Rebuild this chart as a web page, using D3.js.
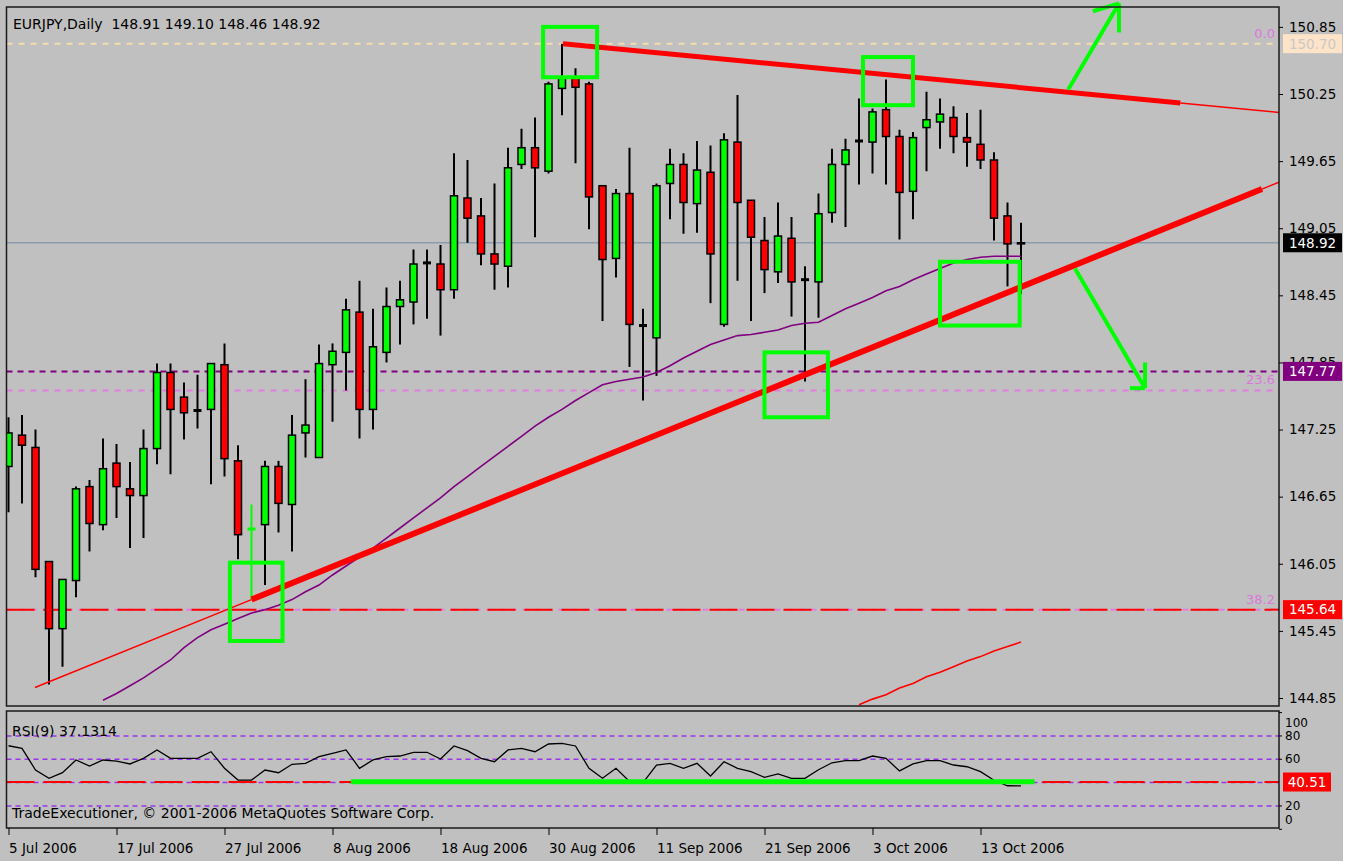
<!DOCTYPE html>
<html>
<head>
<meta charset="utf-8">
<script src="https://cdn.jsdelivr.net/npm/d3@7"></script>
<style>
  body { margin: 0; background: #fff; }
  svg text { font-family: "DejaVu Sans", sans-serif; }
</style>
</head>
<body>
<div id="viz"></div>
<script>
// EURJPY daily bars, 5 Jul 2006 (index 0) .. 18 Oct 2006 (index 75)
const opens = [146.92,147.20,147.09,146.07,145.47,145.90,146.74,146.40,146.95,146.72,
  146.66,147.08,147.76,147.54,147.42,147.43,147.83,146.97,146.36,146.40,
  146.92,146.58,147.22,147.00,147.83,147.94,148.30,147.43,147.94,148.35,
  148.39,148.74,148.73,148.50,149.32,149.16,148.82,148.71,149.62,149.77,
  149.56,150.30,150.39,150.34,149.43,148.78,149.36,148.18,148.07,149.45,
  149.62,149.27,149.55,148.19,149.82,149.30,148.94,148.66,148.96,148.59,
  148.57,149.19,149.62,149.83,149.82,150.11,149.87,149.38,149.95,150.00,
  150.04,149.86,149.80,149.66,149.16,148.91];
const highs = [147.36,147.38,147.25,146.07,145.91,146.74,146.80,147.17,147.12,146.96,
  147.25,147.84,147.84,147.67,147.74,147.84,148.02,147.11,146.58,146.97,
  146.97,147.38,147.70,148.01,148.02,148.42,148.58,148.33,148.52,148.58,
  148.86,148.86,148.90,149.72,149.66,149.32,149.45,149.77,149.94,150.04,
  150.36,150.70,150.48,150.36,149.43,149.40,149.77,148.33,149.45,149.76,
  149.72,149.83,149.79,149.90,150.24,149.30,149.15,149.28,149.15,148.71,
  149.36,149.76,149.85,150.21,150.12,150.38,149.93,149.91,150.27,150.21,
  150.14,150.08,150.11,149.73,149.28,149.10];
const lows = [146.51,146.59,145.93,144.97,145.13,145.75,146.16,146.35,146.46,146.19,
  146.28,146.94,146.85,147.16,147.26,146.76,146.83,146.09,145.73,145.86,
  146.33,146.16,147.00,147.00,147.32,147.60,147.17,147.25,147.85,148.01,
  148.19,148.24,148.09,148.42,148.92,148.72,148.50,148.52,149.58,148.97,
  149.54,150.06,149.63,149.04,148.22,148.61,147.81,147.51,147.73,149.13,
  149.00,149.01,148.38,148.17,148.58,148.22,148.47,148.56,148.26,147.68,
  148.25,149.10,149.06,149.44,149.54,149.44,148.95,149.13,149.56,149.76,
  149.72,149.60,149.58,148.94,148.53,148.46];
const closes = [147.22,147.11,146.00,145.47,145.91,146.72,146.41,146.90,146.74,146.66,
  147.08,147.76,147.43,147.40,147.42,147.84,146.99,146.31,146.36,146.92,
  146.59,147.20,147.29,147.84,147.95,148.32,147.43,147.99,148.35,148.41,
  148.73,148.74,148.50,149.34,149.14,148.82,148.73,149.59,149.77,149.59,
  150.34,150.39,150.31,149.33,148.77,149.36,148.19,148.18,149.43,149.62,
  149.28,149.57,148.82,149.84,149.28,148.97,148.68,148.98,148.57,148.59,
  149.18,149.62,149.75,149.83,150.09,149.87,149.37,149.86,150.02,150.07,
  149.87,149.82,149.66,149.14,148.91,148.92];

// RSI(9), one value per bar
const rsiValues = [71.6,69.4,50.8,43.7,48.5,59.4,54.2,59.4,58.5,56.0,
  60.8,68.0,60.8,60.8,60.8,66.5,52.3,42.2,42.2,50.8,
  48.5,55.7,56.5,62.2,65.1,68.0,52.3,59.4,62.2,62.8,
  66.0,66.0,60.2,71.4,67.4,60.8,57.9,68.0,69.4,66.5,
  73.1,73.7,71.4,52.3,43.7,52.3,41.0,40.0,55.1,56.5,
  52.3,56.5,45.7,57.9,52.3,49.4,44.5,47.4,43.7,43.7,
  51.0,57.0,58.8,58.8,62.8,60.8,50.0,56.0,58.8,58.8,
  55.1,53.6,49.4,42.0,37.3,37.1314];

// purple moving average, starting at bar 7
const maStart = 7;
const maValues = [144.83,144.89,144.96,145.03,145.11,145.19,145.30,145.39,145.46,145.51,
  145.56,145.61,145.64,145.68,145.73,145.80,145.86,145.95,146.03,146.11,
  146.19,146.28,146.37,146.46,146.55,146.64,146.74,146.83,146.92,147.01,
  147.10,147.19,147.28,147.36,147.43,147.51,147.58,147.65,147.68,147.70,
  147.72,147.76,147.82,147.89,147.95,148.01,148.05,148.09,148.10,148.12,
  148.14,148.18,148.20,148.21,148.27,148.33,148.38,148.43,148.49,148.53,
  148.59,148.64,148.69,148.74,148.77,148.79,148.80,148.80,148.80];

// red slow moving average, starting at bar 63
const slowStart = 63;
const slowValues = [144.79,144.84,144.88,144.94,144.98,145.04,145.08,145.13,145.18,145.22,145.27,145.31,145.35];

const dateTicks = [0, 8, 16, 24, 32, 40, 48, 56, 64, 72];
const dateLabels = ['5 Jul 2006', '17 Jul 2006', '27 Jul 2006', '8 Aug 2006', '18 Aug 2006',
  '30 Aug 2006', '11 Sep 2006', '21 Sep 2006', '3 Oct 2006', '13 Oct 2006'];
const priceTicks = [150.85, 150.25, 149.65, 149.05, 148.45, 147.85, 147.25, 146.65, 146.05, 145.45, 144.85];
const rsiTicks = [100, 80, 60, 20, 0];
const rsiLevels = [80, 60, 40, 20];

// fibonacci levels and horizontal lines
const fibNames = ['0.0', '23.6', '38.2'];
const fibPrices = [150.70, 147.60, 145.64];
const purpleLevel = 147.77;
const redLevel = 145.64;
const rsiRedLevel = 40.51;

// drawn objects: trendlines (bar index, price)
const resistBars = [41.07, 86.8];
const resistPrices = [150.70, 150.17];
const supportBars = [18, 92.85];
const supportPrices = [145.73, 149.40];
const supportFrom = 1.96;
const rsiTrendBars = [25.37, 76.0];
const rsiTrendValue = 40.8;
const markedBar = 18;

// green rectangles [bar0, bar1], [price0, price1]
const boxBars = [[39.6, 43.6], [63.3, 67.0], [56.0, 60.7], [69.0, 74.9], [16.4, 20.3]];
const boxPrices = [[150.85, 150.40], [150.58, 150.15], [147.94, 147.36], [148.75, 148.18], [146.06, 145.36]];

// green arrows: tail, tip, head ends
const arrowTails = [[78.5, 150.29], [79.0, 148.69]];
const arrowTips = [[82.26, 151.06], [84.19, 147.62]];
const arrowHeadA = [[80.33, 150.99], [83.07, 147.62]];
const arrowHeadB = [[82.26, 150.80], [84.19, 147.85]];

const W = 1352, H = 861;
const plot = {left: 6.5, right: 1279, top: 7, bottom: 706};
const rsiBox = {top: 711, bottom: 828};

const n = opens.length;
const bars = d3.range(n).map(i => ({i, o: opens[i], h: highs[i], l: lows[i], c: closes[i]}));
const last = bars[n - 1];

const x = d3.scaleLinear().domain([0, 75]).range([8.5, 1021]);
const y = d3.scaleLinear().domain([144.85, 150.25]).range([698, 94]);
const yr = d3.scaleLinear().domain([0, 100]).range([829.3, 712.6]);
const rightBar = x.invert(plot.right);

const svg = d3.select('#viz').append('svg').attr('width', W).attr('height', H);
svg.append('rect').attr('width', 1343).attr('height', H).attr('fill', '#c0c0c0');

const defs = svg.append('defs');
defs.append('clipPath').attr('id', 'clipMain').append('rect')
  .attr('x', plot.left).attr('y', plot.top)
  .attr('width', plot.right - plot.left).attr('height', plot.bottom - plot.top);
defs.append('clipPath').attr('id', 'clipRsi').append('rect')
  .attr('x', plot.left).attr('y', rsiBox.top)
  .attr('width', plot.right - plot.left).attr('height', rsiBox.bottom - rsiBox.top);

const main = svg.append('g').attr('clip-path', 'url(#clipMain)');

function hline(g, v, scale, color, dash, width) {
  g.append('line')
    .attr('x1', plot.left).attr('x2', plot.right)
    .attr('y1', scale(v)).attr('y2', scale(v))
    .attr('stroke', color).attr('stroke-width', width)
    .attr('stroke-dasharray', dash);
}

// horizontal levels
hline(main, fibPrices[0], y, '#f5dcb0', '6,6', 2);
hline(main, fibPrices[1], y, '#e07ee0', '6,6', 2);
hline(main, fibPrices[2], y, '#e07ee0', '6,6', 2);
hline(main, purpleLevel, y, '#800080', '6,5', 2);
hline(main, redLevel, y, '#ff0000', '28,9', 2);
hline(main, last.c, y, '#8c9cae', null, 1.5);

// candles
const cg = main.append('g').selectAll('g').data(bars).join('g');
cg.append('line')
  .attr('x1', d => x(d.i)).attr('x2', d => x(d.i))
  .attr('y1', d => y(d.h)).attr('y2', d => y(d.l))
  .attr('stroke', d => d.i === markedBar ? '#00ff00' : '#000').attr('stroke-width', 2);
cg.filter(d => Math.abs(d.o - d.c) >= 0.005).append('rect')
  .attr('x', d => x(d.i) - 3.5).attr('width', 7)
  .attr('y', d => y(Math.max(d.o, d.c)))
  .attr('height', d => Math.max(1, Math.abs(y(d.o) - y(d.c))))
  .attr('fill', d => d.c > d.o ? '#00ff00' : '#ff0000')
  .attr('stroke', '#000').attr('stroke-width', 1.5);
cg.filter(d => Math.abs(d.o - d.c) < 0.005).append('line')
  .attr('x1', d => x(d.i) - 4).attr('x2', d => x(d.i) + 4)
  .attr('y1', d => y(d.o)).attr('y2', d => y(d.o))
  .attr('stroke', d => d.i === markedBar ? '#00ff00' : '#000').attr('stroke-width', 3);

// moving averages
const ma = d3.line().x((d, i) => x(maStart + i)).y(d => y(d));
main.append('path').datum(maValues).attr('d', ma)
  .attr('fill', 'none').attr('stroke', '#800080').attr('stroke-width', 1.6);
const slow = d3.line().x((d, i) => x(slowStart + i)).y(d => y(d));
main.append('path').datum(slowValues).attr('d', slow)
  .attr('fill', 'none').attr('stroke', '#ff0000').attr('stroke-width', 1.6);

// trendlines
function along(bs, ps, b) {
  return ps[0] + (ps[1] - ps[0]) * (b - bs[0]) / (bs[1] - bs[0]);
}
function seg(b0, b1, bs, ps, width) {
  main.append('line')
    .attr('x1', x(b0)).attr('y1', y(along(bs, ps, b0)))
    .attr('x2', x(b1)).attr('y2', y(along(bs, ps, b1)))
    .attr('stroke', '#ff0000').attr('stroke-width', width);
}
seg(supportFrom, supportBars[0], supportBars, supportPrices, 1.5);
seg(supportBars[0], supportBars[1], supportBars, supportPrices, 6);
seg(supportBars[1], rightBar, supportBars, supportPrices, 1.5);
seg(resistBars[0], resistBars[1], resistBars, resistPrices, 5);
seg(resistBars[1], rightBar, resistBars, resistPrices, 1.5);

// green rectangles
svg.append('g').selectAll('rect').data(boxBars).join('rect')
  .attr('x', d => x(d[0])).attr('width', d => x(d[1]) - x(d[0]))
  .attr('y', (d, i) => y(boxPrices[i][0]))
  .attr('height', (d, i) => y(boxPrices[i][1]) - y(boxPrices[i][0]))
  .attr('fill', 'none').attr('stroke', '#00ff00').attr('stroke-width', 4);

// green arrows
const ag = svg.append('g').attr('stroke', '#00ff00').attr('stroke-width', 4).attr('fill', 'none');
arrowTips.forEach((tip, i) => {
  const pts = [[arrowTails[i], tip], [arrowHeadA[i], tip], [arrowHeadB[i], tip]];
  pts.forEach(p => {
    ag.append('line')
      .attr('x1', x(p[0][0])).attr('y1', y(p[0][1]))
      .attr('x2', x(p[1][0])).attr('y2', y(p[1][1]));
  });
});

// RSI panel
const rp = svg.append('g').attr('clip-path', 'url(#clipRsi)');
rsiLevels.forEach(v => hline(rp, v, yr, '#9933ee', '5,4', 1.5));
hline(rp, rsiRedLevel, yr, '#ff0000', '28,9', 2);
rp.append('path').datum(rsiValues)
  .attr('d', d3.line().x((d, i) => x(i)).y(d => yr(d)))
  .attr('fill', 'none').attr('stroke', '#000').attr('stroke-width', 1.3);
rp.append('line')
  .attr('x1', x(rsiTrendBars[0])).attr('x2', x(rsiTrendBars[1]))
  .attr('y1', yr(rsiTrendValue)).attr('y2', yr(rsiTrendValue))
  .attr('stroke', '#00ff00').attr('stroke-width', 5);

// frames
svg.append('rect').attr('x', plot.left).attr('y', plot.top)
  .attr('width', plot.right - plot.left).attr('height', plot.bottom - plot.top)
  .attr('fill', 'none').attr('stroke', '#1a1a1a').attr('stroke-width', 1.5);
svg.append('rect').attr('x', plot.left).attr('y', rsiBox.top)
  .attr('width', plot.right - plot.left).attr('height', rsiBox.bottom - rsiBox.top)
  .attr('fill', 'none').attr('stroke', '#1a1a1a').attr('stroke-width', 1.5);

// price axis
const pa = svg.append('g').attr('transform', `translate(${plot.right},0)`)
  .call(d3.axisRight(y).tickValues(priceTicks).tickSize(4).tickPadding(6).tickFormat(d3.format('.2f')));
pa.select('.domain').remove();
pa.selectAll('text').attr('font-size', '13.5px').attr('fill', '#000').attr('font-family', '"DejaVu Sans", sans-serif');
pa.selectAll('line').attr('stroke', '#000');

// RSI scale labels
const ra = svg.append('g');
rsiTicks.forEach(v => {
  const yy = Math.min(Math.max(yr(v), rsiBox.top + 12), rsiBox.bottom - 8);
  ra.append('line').attr('x1', plot.right).attr('x2', plot.right + 3)
    .attr('y1', yr(v)).attr('y2', yr(v)).attr('stroke', '#000');
  ra.append('text').attr('x', plot.right + 6).attr('y', yy).attr('dy', '0.35em')
    .attr('font-size', '12px').text(v);
});

// date axis
const da = svg.append('g').attr('transform', `translate(0,${rsiBox.bottom})`)
  .call(d3.axisBottom(x).tickValues(dateTicks).tickSize(7).tickPadding(8)
    .tickFormat(d => dateLabels[dateTicks.indexOf(d)]));
da.select('.domain').remove();
da.selectAll('text').attr('text-anchor', 'start').attr('font-size', '13.5px').attr('fill', '#000')
  .attr('font-family', '"DejaVu Sans", sans-serif');
da.selectAll('line').attr('stroke', '#000');

// price tag boxes on the right axis
function tag(yy, label, fill, color, w) {
  svg.append('rect').attr('x', plot.right + 4).attr('y', yy - 9.5)
    .attr('width', w).attr('height', 19).attr('fill', fill);
  svg.append('text').attr('x', plot.right + 4 + w / 2).attr('y', yy).attr('dy', '0.36em')
    .attr('text-anchor', 'middle').attr('font-size', '13.5px').attr('fill', color).text(label);
}
tag(y(fibPrices[0]), d3.format('.2f')(fibPrices[0]), '#fde3c8', '#c8c8c8', 59);
tag(y(last.c), d3.format('.2f')(last.c), '#000', '#fff', 59);
tag(y(purpleLevel), d3.format('.2f')(purpleLevel), '#800080', '#fff', 59);
tag(y(redLevel), d3.format('.2f')(redLevel), '#ff0000', '#fff', 59);
tag(yr(rsiRedLevel), d3.format('.2f')(rsiRedLevel), '#ff0000', '#fff', 48);

// fibonacci level names
fibNames.forEach((f, i) => {
  svg.append('text').attr('x', plot.right - 4).attr('y', y(fibPrices[i]) - 6)
    .attr('text-anchor', 'end').attr('font-size', '13px').attr('fill', '#dd77dd').text(f);
});

// texts
svg.append('text').attr('x', 13).attr('y', 29).attr('font-size', '14px')
  .attr('xml:space', 'preserve')
  .text(`EURJPY,Daily  ${last.o.toFixed(2)} ${last.h.toFixed(2)} ${last.l.toFixed(2)} ${last.c.toFixed(2)}`);
svg.append('text').attr('x', 12).attr('y', 736).attr('font-size', '14px')
  .text(`RSI(9) ${rsiValues[n - 1].toFixed(4)}`);
svg.append('text').attr('x', 12).attr('y', 818).attr('font-size', '14px')
  .text('TradeExecutioner, © 2001-2006 MetaQuotes Software Corp.');
</script>
</body>
</html>
